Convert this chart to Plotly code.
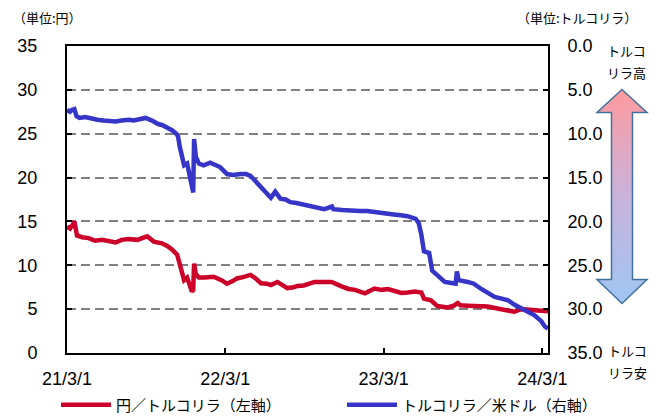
import base64
import plotly.graph_objects as go

# ---------------- data ----------------
jpy_dates = ["2021-03-01", "2021-03-08", "2021-03-14", "2021-03-18", "2021-03-24", "2021-04-05",
             "2021-04-20", "2021-05-05", "2021-05-21", "2021-06-07", "2021-06-21", "2021-07-05",
             "2021-07-21", "2021-08-10", "2021-08-22", "2021-09-02", "2021-09-17", "2021-10-06",
             "2021-10-18", "2021-10-29", "2021-11-10", "2021-11-16", "2021-11-22", "2021-11-26",
             "2021-12-03", "2021-12-09", "2021-12-14", "2021-12-17", "2021-12-19", "2021-12-23",
             "2021-12-30", "2022-01-12", "2022-02-02", "2022-02-20", "2022-03-05", "2022-03-18",
             "2022-03-28", "2022-04-15", "2022-04-28", "2022-05-10", "2022-05-22", "2022-06-05",
             "2022-06-14", "2022-06-29", "2022-07-10", "2022-07-22", "2022-08-05", "2022-08-15",
             "2022-08-29", "2022-09-12", "2022-09-23", "2022-10-10", "2022-11-01", "2022-11-24",
             "2022-12-10", "2022-12-25", "2023-01-17", "2023-02-08", "2023-02-25", "2023-03-11",
             "2023-03-28", "2023-04-11", "2023-04-25", "2023-05-12", "2023-05-27", "2023-06-02",
             "2023-06-18", "2023-06-25", "2023-07-03", "2023-07-26", "2023-08-10", "2023-08-19",
             "2023-08-25", "2023-09-11", "2023-10-05", "2023-10-27", "2023-11-15", "2023-12-04",
             "2023-12-27", "2024-01-12", "2024-01-28", "2024-02-12", "2024-02-28", "2024-03-14"]
jpy_per_try = [14.4, 14.2, 14.6, 15.0, 13.4, 13.2,
               13.1, 12.8, 12.9, 12.7, 12.6, 12.9,
               13.0, 12.9, 13.1, 13.3, 12.7, 12.5,
               12.2, 11.8, 11.2, 10.2, 8.9, 8.3,
               8.6, 7.9, 7.0, 7.2, 10.2, 9.0,
               8.6, 8.6, 8.7, 8.3, 7.9, 8.2,
               8.5, 8.7, 8.9, 8.5, 7.95, 7.9,
               7.75, 8.1, 7.7, 7.4, 7.5, 7.65,
               7.7, 8.0, 8.1, 8.1, 8.1, 7.6,
               7.3, 7.2, 6.8, 7.35, 7.2, 7.3,
               7.0, 6.85, 6.9, 7.0, 6.9, 6.2,
               6.0, 5.7, 5.35, 5.2, 5.4, 5.7,
               5.45, 5.4, 5.35, 5.3, 5.1, 4.9,
               4.7, 5.0, 4.95, 4.9, 4.8, 4.75]

try_dates = ["2021-03-01", "2021-03-08", "2021-03-12", "2021-03-18", "2021-03-23", "2021-03-30",
             "2021-04-12", "2021-04-26", "2021-05-10", "2021-05-24", "2021-06-07", "2021-06-21",
             "2021-07-05", "2021-07-21", "2021-08-02", "2021-08-16", "2021-08-29", "2021-09-13",
             "2021-09-27", "2021-10-06", "2021-10-18", "2021-10-29", "2021-11-08", "2021-11-12",
             "2021-11-16", "2021-11-23", "2021-11-26", "2021-12-03", "2021-12-09", "2021-12-14",
             "2021-12-17", "2021-12-19", "2021-12-23", "2021-12-30", "2022-01-10", "2022-01-25",
             "2022-02-07", "2022-02-17", "2022-03-05", "2022-03-18", "2022-04-05", "2022-04-18",
             "2022-04-28", "2022-05-13", "2022-05-24", "2022-06-05", "2022-06-14", "2022-06-24",
             "2022-07-06", "2022-07-18", "2022-07-29", "2022-08-12", "2022-08-29", "2022-09-13",
             "2022-09-29", "2022-10-15", "2022-11-02", "2022-11-05", "2022-11-25", "2022-12-15",
             "2023-01-05", "2023-01-22", "2023-02-10", "2023-03-01", "2023-03-24", "2023-04-10",
             "2023-04-25", "2023-05-14", "2023-05-21", "2023-05-27", "2023-06-02", "2023-06-14",
             "2023-06-21", "2023-06-30", "2023-07-10", "2023-07-20", "2023-08-01", "2023-08-14",
             "2023-08-17", "2023-08-21", "2023-09-11", "2023-09-25", "2023-10-12", "2023-10-28",
             "2023-11-12", "2023-11-28", "2023-12-13", "2023-12-28", "2024-01-12", "2024-01-28",
             "2024-02-12", "2024-02-28", "2024-03-07", "2024-03-14"]
try_per_usd = [7.3, 7.5, 7.3, 7.2, 8.0, 8.2,
               8.1, 8.3, 8.4, 8.5, 8.6, 8.6,
               8.5, 8.4, 8.5, 8.3, 8.2, 8.5,
               8.9, 9.0, 9.3, 9.6, 10.0, 10.3,
               11.5, 13.0, 13.6, 13.4, 14.6, 16.0,
               16.7, 10.6, 12.6, 13.4, 13.6, 13.3,
               13.6, 13.8, 14.6, 14.7, 14.6, 14.6,
               14.8, 15.6, 16.1, 16.9, 17.3, 16.6,
               17.4, 17.5, 17.8, 17.9, 18.1, 18.2,
               18.5, 18.6, 18.3, 18.6, 18.7, 18.8,
               18.8, 18.8, 18.9, 18.95, 19.2, 19.3,
               19.4, 19.7, 20.2, 21.5, 23.4, 23.6,
               25.6, 26.0, 26.5, 26.9, 27.0, 27.1,
               25.7, 26.7, 26.9, 27.1, 27.7, 28.2,
               28.6, 28.8, 29.0, 29.5, 29.9, 30.3,
               30.7, 31.4, 32.0, 32.2]

x_tick_vals = ["2021-03-01", "2022-03-01", "2023-03-01", "2024-03-01"]
x_tick_text = ["21/3/1", "22/3/1", "23/3/1", "24/3/1"]
left_ticks = [0, 5, 10, 15, 20, 25, 30, 35]
right_ticks = [0, 5, 10, 15, 20, 25, 30, 35]

name_jpy = "円／トルコリラ（左軸）"
name_try = "トルコリラ／米ドル（右軸）"

# ---------------- layout constants ----------------
W, H = 659, 420
PL, PR, PT, PB = 67, 548, 46, 353   # plot area edges in pixels
NUM_FONT = "Liberation Sans Narrow, Arial Narrow, Liberation Sans, Arial, sans-serif"
JP_FONT = "Noto Sans CJK JP, sans-serif"

# decorative gradient double arrow, drawn as an inline SVG image
AW, AH = 54, 218          # image box in px
acx, atop = 622, 88       # arrow centre x and top of image box (px)
svg = f"""<svg xmlns='http://www.w3.org/2000/svg' width='{AW}' height='{AH}' viewBox='0 0 {AW} {AH}'>
<defs><linearGradient id='g' x1='0' y1='0' x2='0' y2='1'>
<stop offset='0' stop-color='#ff9a9e'/><stop offset='0.5' stop-color='#c9b3dc'/>
<stop offset='1' stop-color='#9ec6f2'/></linearGradient></defs>
<polygon points='27,1.5 52,24.5 37.5,24.5 37.5,191.5 52,191.5 27,215.5 2,191.5 16.5,191.5 16.5,24.5 2,24.5'
 fill='url(#g)' stroke='#41719c' stroke-width='1.5' stroke-linejoin='miter'/></svg>"""
arrow_src = "data:image/svg+xml;base64," + base64.b64encode(svg.encode()).decode()

fig = go.Figure()
fig.add_trace(go.Scatter(x=jpy_dates, y=jpy_per_try, name=name_jpy, mode="lines",
                         line=dict(color="#cc0029", width=4.5), xaxis="x", yaxis="y"))
fig.add_trace(go.Scatter(x=try_dates, y=try_per_usd, name=name_try, mode="lines",
                         line=dict(color="#3535c8", width=4.5), xaxis="x", yaxis="y2"))

axis_line = dict(showline=True, linecolor="black", linewidth=2, ticks="inside",
                 ticklen=5, tickwidth=1.5, tickcolor="black",
                 tickfont=dict(family=NUM_FONT, size=18, color="black"))

fig.update_layout(
    width=W, height=H, autosize=False,
    margin=dict(l=0, r=0, t=0, b=0, autoexpand=False),
    paper_bgcolor="white", plot_bgcolor="white",
    xaxis=dict(domain=[PL / W, PR / W], anchor="y", type="date",
               range=["2021-03-01", "2024-03-14"], tickvals=x_tick_vals, ticktext=x_tick_text,
               mirror=True, showgrid=False, zeroline=False, ticklabelstandoff=8,
               automargin=False, **axis_line),
    yaxis=dict(domain=[(H - PB) / H, (H - PT) / H], anchor="x", range=[0, 35],
               tickvals=left_ticks, mirror=True, showgrid=True, gridcolor="#808080",
               gridwidth=1.5, griddash="9px,5px", zeroline=False, ticklabelstandoff=24,
               automargin=False, **axis_line),
    yaxis2=dict(overlaying="y", side="right", anchor="x", range=[35, 0],
                tickvals=right_ticks, tickformat=".1f", showgrid=False, zeroline=False,
                ticklabelstandoff=14, automargin=False, **axis_line),
    showlegend=True,
    legend=dict(orientation="h", x=56 / W, y=1 - 405 / H, xanchor="left", yanchor="middle",
                itemwidth=50, entrywidth=221, entrywidthmode="pixels",
                font=dict(family=JP_FONT, size=15, color="black"),
                bgcolor="rgba(0,0,0,0)", traceorder="normal"),
    images=[dict(source=arrow_src, xref="paper", yref="paper",
                 x=(acx - AW / 2) / W, y=1 - atop / H, sizex=AW / W, sizey=AH / H,
                 xanchor="left", yanchor="top", sizing="stretch", layer="above")],
)

def px_annot(text, x, y, size=13):
    fig.add_annotation(text=text, x=x / W, y=1 - y / H, xref="paper", yref="paper",
                       showarrow=False, xanchor="center", yanchor="middle",
                       font=dict(family=JP_FONT, size=size, color="black"))

px_annot("（単位:円）", 47, 18)
px_annot("（単位:トルコリラ）", 577, 18)
px_annot("トルコ", 626, 50)
px_annot("リラ高", 626, 72)
px_annot("トルコ", 627, 350)
px_annot("リラ安", 627, 372)

fig.write_html("out.html", config={"displayModeBar": False},
               post_script="document.body.style.margin='0px';")
